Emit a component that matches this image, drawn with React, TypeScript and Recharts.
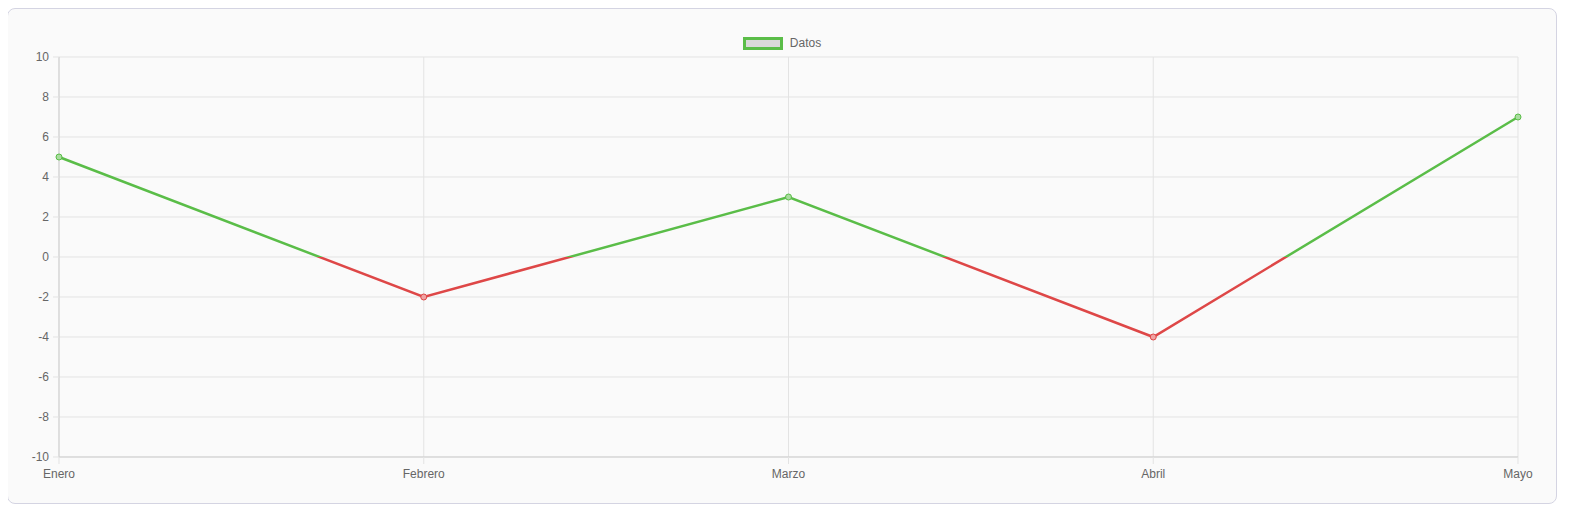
import React from "react";
import { LineChart, Line, XAxis, YAxis, CartesianGrid } from "recharts";

const categories = ["Enero", "Febrero", "Marzo", "Abril", "Mayo"];
const values = [5, -2, 3, -4, 7];
const yTicks = [-10, -8, -6, -4, -2, 0, 2, 4, 6, 8, 10];
const seriesName = "Datos";

const data = categories.map((c, i) => ({ name: c, value: values[i] }));

const GREEN = "#5abd48";
const RED = "#de4747";

const maxV = Math.max(...values);
const minV = Math.min(...values);
const zeroOff = maxV / (maxV - minV);

const Dot = (props: any) => {
  const { cx, cy, payload } = props;
  if (cx == null || cy == null) return null;
  const pos = payload.value >= 0;
  return (
    <circle
      cx={cx}
      cy={cy}
      r={3}
      fill={pos ? "#a9dc9f" : "#efa3a3"}
      stroke={pos ? GREEN : RED}
      strokeWidth={1}
    />
  );
};

export default function App() {
  return (
    <div
      style={{
        marginLeft: -1,
        width: 1548,
        height: 494,
        border: "1px solid #d4d4e2",
        borderRadius: 8,
        background: "#fafafa",
        position: "relative",
      }}
    >
      <div
        style={{
          position: "absolute",
          top: 27,
          left: 0,
          width: 1548,
          display: "flex",
          justifyContent: "center",
          alignItems: "center",
          fontFamily: "'Liberation Sans', Arial, sans-serif",
          fontSize: 12,
          color: "#666",
        }}
      >
        <span
          style={{
            display: "inline-block",
            width: 34,
            height: 7,
            border: `3px solid ${GREEN}`,
            background: "#d9d9d9",
            marginRight: 7,
          }}
        />
        <span>{seriesName}</span>
      </div>
      <LineChart
        width={1548}
        height={494}
        data={data}
        margin={{ top: 48, right: 38, bottom: 16, left: 0 }}
        style={{ fontFamily: "'Liberation Sans', Arial, sans-serif" }}
      >
        <defs>
          <linearGradient id="signGrad" x1="0" y1="0" x2="0" y2="1">
            <stop offset={0} stopColor={GREEN} />
            <stop offset={zeroOff} stopColor={GREEN} />
            <stop offset={zeroOff} stopColor={RED} />
            <stop offset={1} stopColor={RED} />
          </linearGradient>
        </defs>
        <CartesianGrid stroke="#e3e3e3" strokeWidth={1} />
        <XAxis
          dataKey="name"
          interval={0}
          tickSize={7}
          tickMargin={5}
          tick={{ fill: "#666", fontSize: 12 }}
          axisLine={{ stroke: "#cfcfcf" }}
          tickLine={{ stroke: "#e3e3e3" }}
          height={30}
        />
        <YAxis
          domain={[-10, 10]}
          ticks={yTicks}
          interval={0}
          width={51}
          tickSize={6}
          tickMargin={4}
          tick={{ fill: "#666", fontSize: 12 }}
          axisLine={{ stroke: "#cfcfcf" }}
          tickLine={{ stroke: "#e3e3e3" }}
        />
        <Line
          type="linear"
          dataKey="value"
          name={seriesName}
          stroke="url(#signGrad)"
          strokeWidth={2.5}
          dot={<Dot />}
          activeDot={false}
          isAnimationActive={false}
        />
      </LineChart>
    </div>
  );
}
